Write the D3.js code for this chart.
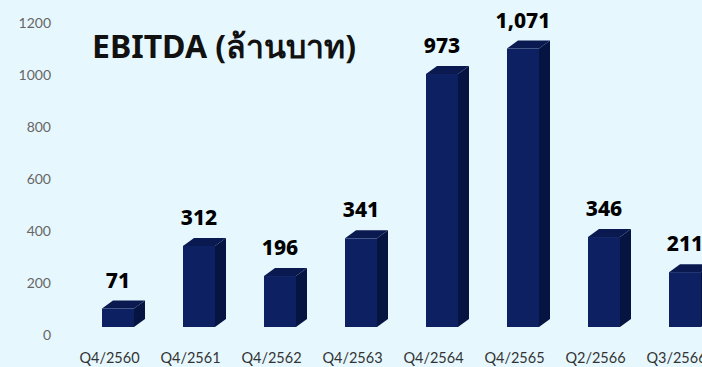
<!DOCTYPE html>
<html>
<head>
<meta charset="utf-8">
<script src="https://cdn.jsdelivr.net/npm/d3@7"></script>
<style>
  html, body { margin: 0; padding: 0; background: #e6f8fe; }
  svg { display: block; }
</style>
</head>
<body>
<div id="chart"></div>
<script>
// Quarterly EBITDA, million baht
const categories = ["Q4/2560", "Q4/2561", "Q4/2562", "Q4/2563", "Q4/2564", "Q4/2565", "Q2/2566", "Q3/2566"];
const values = [71, 312, 196, 341, 973, 1071, 346, 211];
const valueLabels = ["71", "312", "196", "341", "973", "1,071", "346", "211"];
const yTicks = [0, 200, 400, 600, 800, 1000, 1200];
const title = "EBITDA (ล้านบาท)";

const W = 702, H = 367;
const barW = 32, depthX = 11, depthY = 8;

const svg = d3.select("#chart").append("svg")
  .attr("width", W).attr("height", H);

svg.append("rect").attr("width", W).attr("height", H).attr("fill", "#e6f8fe");

// front-face value scale; the axis sits one depth step lower
const y = d3.scaleLinear().domain([0, 1200]).range([327, 15]);
const yAxisScale = d3.scaleLinear().domain([0, 1200]).range([335, 23]);
const x = d3.scalePoint().domain(categories).range([118, 685]);

// y axis labels
const yAxis = d3.axisLeft(yAxisScale).tickValues(yTicks).tickSize(0).tickPadding(0)
  .tickFormat(d3.format("d"));
const gy = svg.append("g").attr("transform", "translate(51,0)").call(yAxis);
gy.select(".domain").remove();
gy.selectAll("text")
  .attr("font-family", "Lato, 'Open Sans', sans-serif")
  .attr("font-size", 14).attr("fill", "#666").attr("font-weight", 400);

// category labels
const xAxis = d3.axisBottom(x).tickSize(0).tickPadding(0);
const gx = svg.append("g").attr("transform", "translate(-9,353)").call(xAxis);
gx.select(".domain").remove();
gx.selectAll("text")
  .attr("font-family", "Lato, 'Open Sans', sans-serif")
  .attr("font-size", 14.5).attr("fill", "#333");

// 3D bars: side, top, front
const bars = svg.append("g").selectAll("g").data(values).join("g");
bars.each(function(v, i) {
  const g = d3.select(this);
  const cx = x(categories[i]);
  const x0 = cx - barW / 2, x1 = cx + barW / 2;
  const yt = y(v), yb = y(0);
  g.append("path")
    .attr("d", `M${x1},${yt}L${x1 + depthX},${yt - depthY}L${x1 + depthX},${yb - depthY}L${x1},${yb}Z`)
    .attr("fill", "#061442");
  g.append("path")
    .attr("d", `M${x0},${yt}L${x0 + depthX},${yt - depthY}L${x1 + depthX},${yt - depthY}L${x1},${yt}Z`)
    .attr("fill", "#0a1a50");
  g.append("rect")
    .attr("x", x0).attr("y", yt).attr("width", barW).attr("height", yb - yt)
    .attr("fill", "#0c2062");
});

// value labels
svg.append("g").selectAll("text").data(values).join("text")
  .attr("x", (d, i) => x(categories[i]))
  .attr("y", d => y(d) - 21)
  .attr("text-anchor", "middle")
  .attr("font-family", "'Noto Sans', sans-serif")
  .attr("font-weight", 800)
  .attr("font-size", 21)
  .attr("fill", "#000")
  .text((d, i) => valueLabels[i]);

// title
svg.append("text")
  .attr("x", 92).attr("y", 58)
  .attr("font-family", "'Noto Sans', sans-serif")
  .attr("font-weight", 700)
  .attr("font-size", 32)
  .attr("fill", "#111")
  .text(title);
</script>
</body>
</html>
